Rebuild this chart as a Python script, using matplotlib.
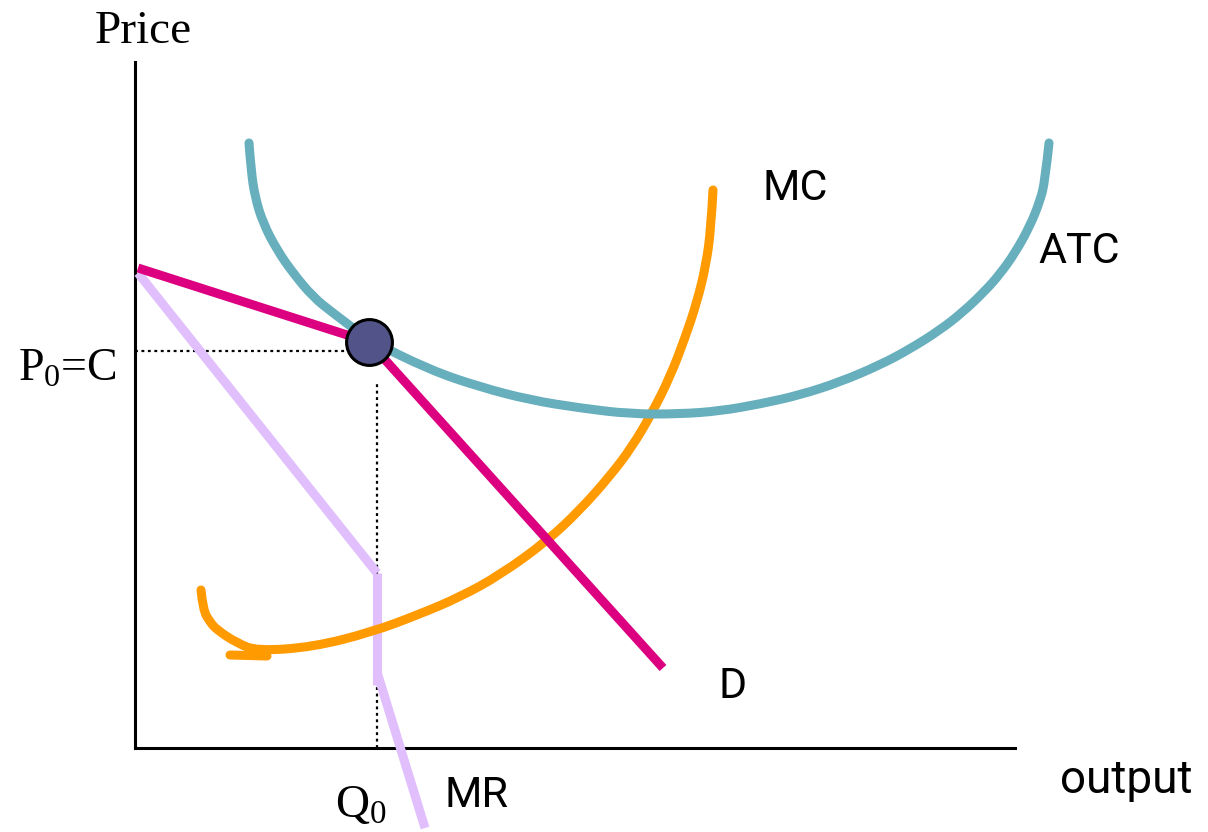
import matplotlib
matplotlib.use("Agg")
import matplotlib.pyplot as plt
from matplotlib.path import Path
from matplotlib.patches import PathPatch

plt.rcParams['mathtext.fontset'] = 'custom'
plt.rcParams['mathtext.rm'] = 'Liberation Serif'
plt.rcParams['mathtext.it'] = 'Liberation Serif'

SANS = ['Roboto', 'DejaVu Sans']
SERIF = ['Liberation Serif', 'DejaVu Serif']

# quantity (x) and price (y) values for each curve
atc_q = [11.4, 11.6, 12.0, 12.8, 14.2, 15.8, 17.8, 19.8, 23.4, 29.5, 34.5,
         39.5, 44.5, 49.5, 54.5, 58.5, 62.5, 66.5, 70.5, 74.5, 77.5, 80.5,
         82.8, 85.0, 86.5, 88.0, 89.5, 90.5, 91.0, 91.4]
atc_p = [60.5, 57.8, 55.1, 52.5, 49.8, 47.5, 45.1, 43.5, 40.8, 37.8, 36.1,
         34.8, 34.0, 33.4, 33.4, 33.7, 34.4, 35.3, 36.6, 38.3, 39.9, 41.8,
         43.6, 45.7, 47.4, 49.5, 52.2, 54.7, 56.7, 60.5]

mc_q = [6.6, 6.8, 7.5, 8.2, 10.2, 12.2, 17.8, 23.7, 28.5, 32.5, 36.5, 41.2,
        44.5, 47.5, 49.7, 51.7, 53.5, 55.0, 56.2, 57.1, 57.6, 57.8]
mc_p = [15.8, 13.8, 12.6, 11.8, 10.5, 9.7, 10.1, 11.6, 13.4, 15.1, 17.3, 20.7,
        23.8, 27.2, 30.1, 33.5, 37.1, 41.0, 44.6, 48.3, 52.0, 55.8]
mc_tail_q = [9.5, 13.2]
mc_tail_p = [9.3, 9.2]

d_q = [0.3, 23.4, 52.8]
d_p = [48.0, 40.6, 8.0]

mr_q = [[0.3, 24.2], [24.2, 24.2], [24.2, 29.0]]
mr_p = [[47.5, 17.5], [17.5, 6.3], [7.6, -8.0]]

q0 = 24.2
p0 = 39.7
eq_q, eq_p = 23.4, 40.6


def smooth_path(xs, ys):
    # quadratic bezier through the midpoints, using the points as controls
    pts = list(zip(xs, ys))
    verts = [pts[0]]
    codes = [Path.MOVETO]
    for i in range(1, len(pts) - 2):
        mid = ((pts[i][0] + pts[i + 1][0]) / 2, (pts[i][1] + pts[i + 1][1]) / 2)
        verts += [pts[i], mid]
        codes += [Path.CURVE3, Path.CURVE3]
    verts += [pts[-2], pts[-1]]
    codes += [Path.CURVE3, Path.CURVE3]
    return Path(verts, codes)


fig = plt.figure(figsize=(12.08, 8.32), dpi=100)
ax = fig.add_axes([135 / 1208, 84 / 832, 880 / 1208, 686 / 832])
ax.set_xlim(0, 88)
ax.set_ylim(0, 68.6)
for s in ['top', 'right']:
    ax.spines[s].set_visible(False)
for s in ['left', 'bottom']:
    ax.spines[s].set_linewidth(2.2)
ax.set_xticks([])
ax.set_yticks([])

lw = 6.5
# dotted guide lines
ax.plot([0, 21.0], [p0, p0], color='black', lw=1.6, ls=(0, (1.3, 1.6)),
        clip_on=False, zorder=2)
ax.plot([q0, q0], [0, 36.6], color='black', lw=1.6, ls=(0, (1.3, 1.6)),
        clip_on=False, zorder=2)

for xs, ys in zip(mr_q, mr_p):
    ax.plot(xs, ys, color='#E0BFFC', lw=lw, solid_capstyle='butt',
            clip_on=False, zorder=3)

ax.add_patch(PathPatch(smooth_path(mc_q, mc_p), fill=False, edgecolor='#FF9A00',
                       lw=lw, capstyle='round', joinstyle='round',
                       clip_on=False, zorder=4))
ax.plot(mc_tail_q, mc_tail_p, color='#FF9A00', lw=lw, solid_capstyle='round',
        clip_on=False, zorder=4)
ax.add_patch(PathPatch(smooth_path(atc_q, atc_p), fill=False, edgecolor='#67AFBD',
                       lw=lw, capstyle='round', joinstyle='round',
                       clip_on=False, zorder=5))
ax.plot(d_q, d_p, color='#DC0081', lw=lw, solid_capstyle='butt',
        clip_on=False, zorder=6)
ax.plot([eq_q], [eq_p], 'o', ms=33, mfc='#525389', mec='black', mew=2.2,
        clip_on=False, zorder=7)

lab = dict(va='baseline', ha='left', clip_on=False)
ax.text(-4.0, 70.5, 'Price', family=SERIF, fontsize=34, **lab)
ax.text(-11.7, 36.7, 'P$_0$=C', family=SERIF, fontsize=33, **lab)
ax.text(20.0, -6.9, 'Q$_0$', family=SERIF, fontsize=34, **lab)
ax.text(62.8, 54.8, 'MC', family=SANS, fontsize=31, **lab)
ax.text(90.3, 48.5, 'ATC', family=SANS, fontsize=31, **lab)
ax.text(58.3, 5.0, 'D', family=SANS, fontsize=31, **lab)
ax.text(31.0, -5.9, 'MR', family=SANS, fontsize=31, **lab)
ax.text(92.5, -4.5, 'output', family=SANS, fontsize=33, **lab)

fig.savefig('out.png', dpi=100)
